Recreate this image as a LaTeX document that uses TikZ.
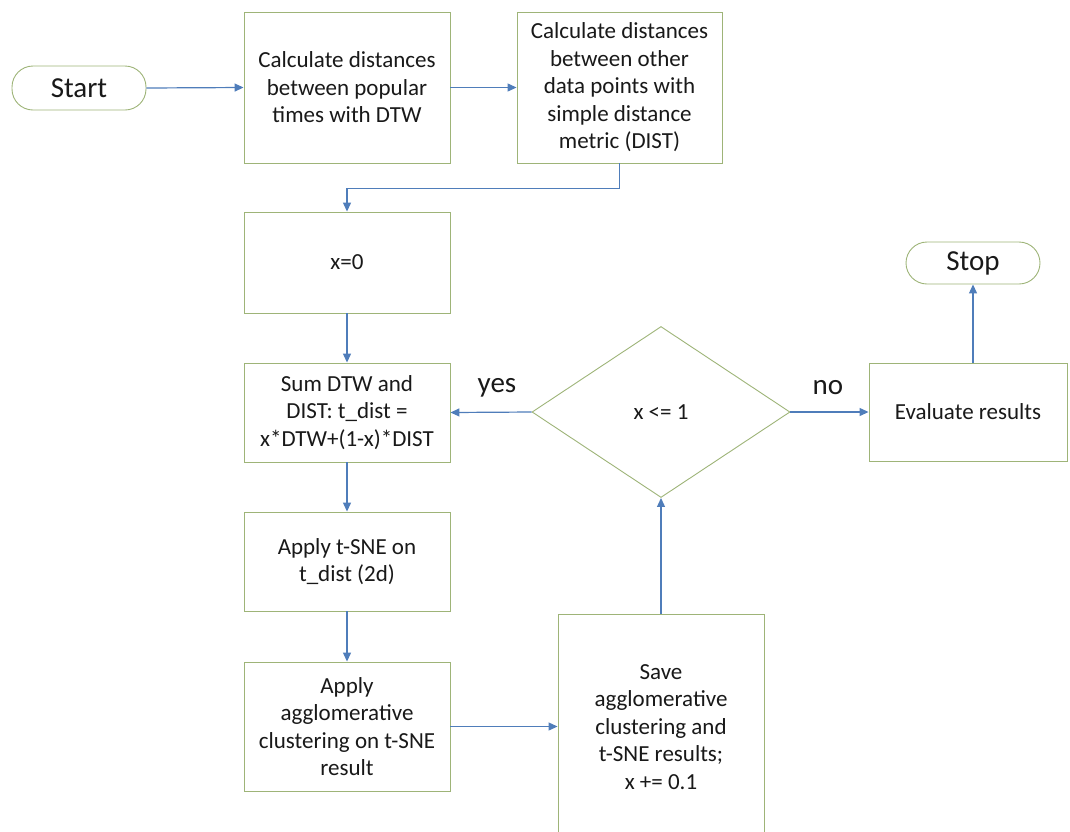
\documentclass[tikz,border=0pt]{standalone}
\usepackage{fontspec}
\setmainfont{Carlito}
\usetikzlibrary{shapes.geometric,arrows.meta}
\definecolor{boxgreen}{RGB}{158,180,120}
\definecolor{arrblue}{RGB}{79,125,186}
\definecolor{txt}{RGB}{25,25,25}
\tikzset{
  box/.style={draw=boxgreen, line width=0.9pt, fill=white, align=center, inner sep=2pt,
     text=txt, font=\fontsize{23}{27.5}\selectfont},
  term/.style={draw=boxgreen, line width=0.9pt, fill=white, rounded corners=21pt,
     text=txt, font=\fontsize{29}{33}\selectfont, inner sep=0pt},
  decision/.style={diamond, draw=boxgreen, line width=0.9pt, fill=white, inner sep=0pt,
     text=txt, font=\fontsize{23}{27.5}\selectfont},
  arr/.style={draw=arrblue, line width=1.2pt, -{Triangle[length=9pt,width=8pt]}},
  lbl/.style={text=txt, font=\fontsize{29}{33}\selectfont, inner sep=0pt}
}
\begin{document}
\begin{tikzpicture}[x=1pt,y=-1pt]
\useasboundingbox (0,0) rectangle (1070,831);
\begin{scope}
\clip (0,0) rectangle (1070,831);
\node[term, minimum width=134pt, minimum height=44pt] (start) at (79,88) {Start};
\node[box, minimum width=206pt, minimum height=151pt] (b1) at (347,87.5)
  {Calculate distances\\between popular\\times with DTW};
\node[box, minimum width=205pt, minimum height=151pt] (b2) at (619.5,87.5)
  {Calculate distances\\between other\\data points with\\simple distance\\metric (DIST)};
\node[box, minimum width=206pt, minimum height=101pt] (b3) at (347,262.5) {x=0};
\node[box, minimum width=206pt, minimum height=99pt] (b4) at (347,412.5)
  {Sum DTW and\\DIST: t\_dist =\\x*DTW+(1-x)*DIST};
\node[box, minimum width=206pt, minimum height=99pt] (b5) at (347,561.5)
  {Apply t-SNE on\\t\_dist (2d)};
\node[box, minimum width=206pt, minimum height=129pt] (b6) at (347,726.5)
  {Apply\\agglomerative\\clustering on t-SNE\\result};
\node[box, minimum width=206pt, minimum height=226pt] (save) at (661,727)
  {Save\\agglomerative\\clustering and\\t-SNE results;\\x += 0.1};
\node[decision, minimum width=258pt, minimum height=171pt] (dia) at (661,412) {x <= 1};
\node[box, minimum width=198pt, minimum height=98pt] (eval) at (968,412) {Evaluate results};
\node[term, minimum width=134pt, minimum height=42pt] (stop) at (973,263) {Stop};
\node[lbl] (yes) at (497,388) {yes};
\node[lbl] (no) at (828,388) {no};

\draw[arr] (start.east) -- (b1.west);
\draw[arr] (b1.east) -- (b2.west);
\draw[arr] (b2.south) -- ++(0,25) -| (b3.north);
\draw[arr] (b3.south) -- (b4.north);
\draw[arr] (dia.west) -- (b4.east);
\draw[arr] (b4.south) -- (b5.north);
\draw[arr] (b5.south) -- (b6.north);
\draw[arr] (b6.east) -- (save.west |- b6.east);
\draw[arr] (save.north) -- (dia.south);
\draw[arr] (dia.east) -- (eval.west);
\draw[arr] (eval.north -| stop.south) -- (stop.south);
\end{scope}
\end{tikzpicture}
\end{document}
